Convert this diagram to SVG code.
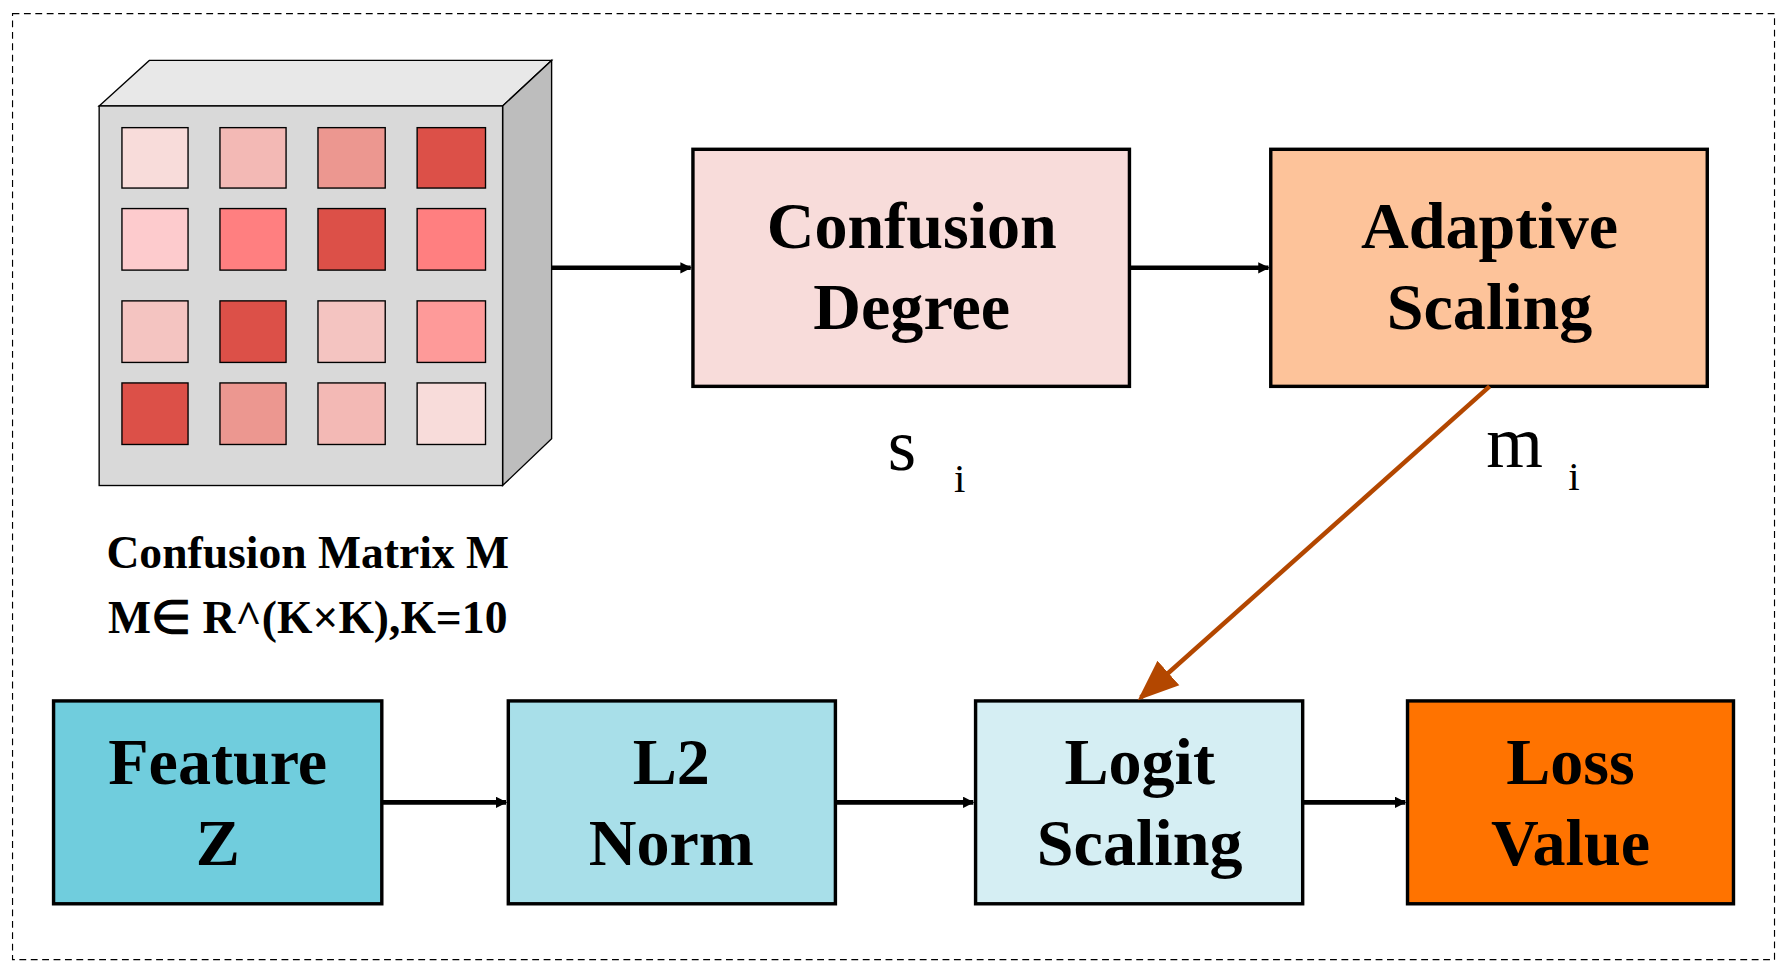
<svg xmlns="http://www.w3.org/2000/svg" width="1787" height="975" viewBox="0 0 1787 975">
<style>
.b{stroke:#000;stroke-width:3}
.c{stroke:#000;stroke-width:1.2}
.t{font-family:"Liberation Serif",serif;font-weight:bold;text-anchor:middle;fill:#000}
.r{font-family:"Liberation Serif",serif;fill:#000}
.e{stroke:#000;stroke-width:4;fill:none}
</style>
<defs>
<marker id="ah" markerWidth="10" markerHeight="10" refX="9" refY="5" orient="auto" markerUnits="userSpaceOnUse" viewBox="0 0 10 10"><path d="M0,0 L10,5 L0,10 z" fill="#000"/></marker>
<marker id="ao" viewBox="0 0 10 10" refX="9" refY="5" markerWidth="36" markerHeight="36" orient="auto" markerUnits="userSpaceOnUse"><path d="M0,1 L10,5 L0,9 z" fill="#B34700"/></marker>
</defs>
<rect width="1787" height="975" fill="#fff"/>
<g transform="scale(1.1397)">
<rect x="11" y="12" width="1546" height="830" fill="none" stroke="#000" stroke-width="1" stroke-dasharray="6,4"/>
<g id="matrix">
<polygon points="87,93 131,53 484,53 441,93" fill="#E8E8E8" class="c"/>
<polygon points="441,93 484,53 484,385 441,426" fill="#BDBDBD" class="c"/>
<rect x="87" y="93" width="354" height="333" fill="#D9D9D9" class="c"/>
<rect x="107" y="112" width="58" height="53" fill="#F8DCDA" class="c"/>
<rect x="193" y="112" width="58" height="53" fill="#F3B9B5" class="c"/>
<rect x="279" y="112" width="59" height="53" fill="#EC9790" class="c"/>
<rect x="366" y="112" width="60" height="53" fill="#DC5048" class="c"/>
<rect x="107" y="183" width="58" height="54" fill="#FDCBCD" class="c"/>
<rect x="193" y="183" width="58" height="54" fill="#FF7F80" class="c"/>
<rect x="279" y="183" width="59" height="54" fill="#DC5048" class="c"/>
<rect x="366" y="183" width="60" height="54" fill="#FF7F80" class="c"/>
<rect x="107" y="264" width="58" height="54" fill="#F4C4C1" class="c"/>
<rect x="193" y="264" width="58" height="54" fill="#DC5048" class="c"/>
<rect x="279" y="264" width="59" height="54" fill="#F4C4C1" class="c"/>
<rect x="366" y="264" width="60" height="54" fill="#FE9A99" class="c"/>
<rect x="107" y="336" width="58" height="54" fill="#DC5048" class="c"/>
<rect x="193" y="336" width="58" height="54" fill="#EC9790" class="c"/>
<rect x="279" y="336" width="59" height="54" fill="#F3B9B5" class="c"/>
<rect x="366" y="336" width="60" height="54" fill="#F8DCDA" class="c"/>
<text class="t" x="270" y="498" font-size="40">Confusion Matrix M</text>
<text class="t" x="270" y="555" font-size="40">M∈ R^(K×K),K=10</text>
</g>
<g id="conf">
<rect x="608" y="131" width="383" height="208" fill="#F8DCDA" class="b"/>
<text class="t" x="800" y="218" font-size="58">Confusion</text>
<text class="t" x="800" y="289" font-size="58">Degree</text>
</g>
<g id="adapt">
<rect x="1115" y="131" width="383" height="208" fill="#FDC39A" class="b"/>
<text class="t" x="1307" y="218" font-size="58">Adaptive</text>
<text class="t" x="1307" y="289" font-size="58">Scaling</text>
</g>
<g id="si"><text class="r" x="779" y="412" font-size="64">s</text><text class="r" x="837" y="432" font-size="36">i</text></g>
<g id="mi"><text class="r" x="1304" y="410" font-size="64">m</text><text class="r" x="1376" y="430" font-size="36">i</text></g>
<g id="feat"><rect x="47" y="615" width="288" height="178" fill="#70CDDD" class="b"/>
<text class="t" x="191" y="688" font-size="58">Feature</text><text class="t" x="191" y="759" font-size="58">Z</text></g>
<g id="l2"><rect x="446" y="615" width="287" height="178" fill="#A8DFE9" class="b"/>
<text class="t" x="589" y="688" font-size="58">L2</text><text class="t" x="589" y="759" font-size="58">Norm</text></g>
<g id="logit"><rect x="856" y="615" width="287" height="178" fill="#D5EEF3" class="b"/>
<text class="t" x="1000" y="688" font-size="58">Logit</text><text class="t" x="1000" y="759" font-size="58">Scaling</text></g>
<g id="loss"><rect x="1235" y="615" width="286" height="178" fill="#FF7300" class="b"/>
<text class="t" x="1378" y="688" font-size="58">Loss</text><text class="t" x="1378" y="759" font-size="58">Value</text></g>
<g id="connectors">
<line x1="484" y1="235" x2="606" y2="235" class="e" marker-end="url(#ah)" style="stroke-width:4"/>
<line x1="991" y1="235" x2="1113" y2="235" class="e" marker-end="url(#ah)"/>
<line x1="335" y1="704" x2="444" y2="704" class="e" marker-end="url(#ah)"/>
<line x1="733" y1="704" x2="854" y2="704" class="e" marker-end="url(#ah)"/>
<line x1="1143" y1="704" x2="1233" y2="704" class="e" marker-end="url(#ah)"/>
<line x1="1307" y1="339" x2="1001" y2="612" stroke="#B34700" stroke-width="4" marker-end="url(#ao)"/>
</g>
</g>
</svg>
